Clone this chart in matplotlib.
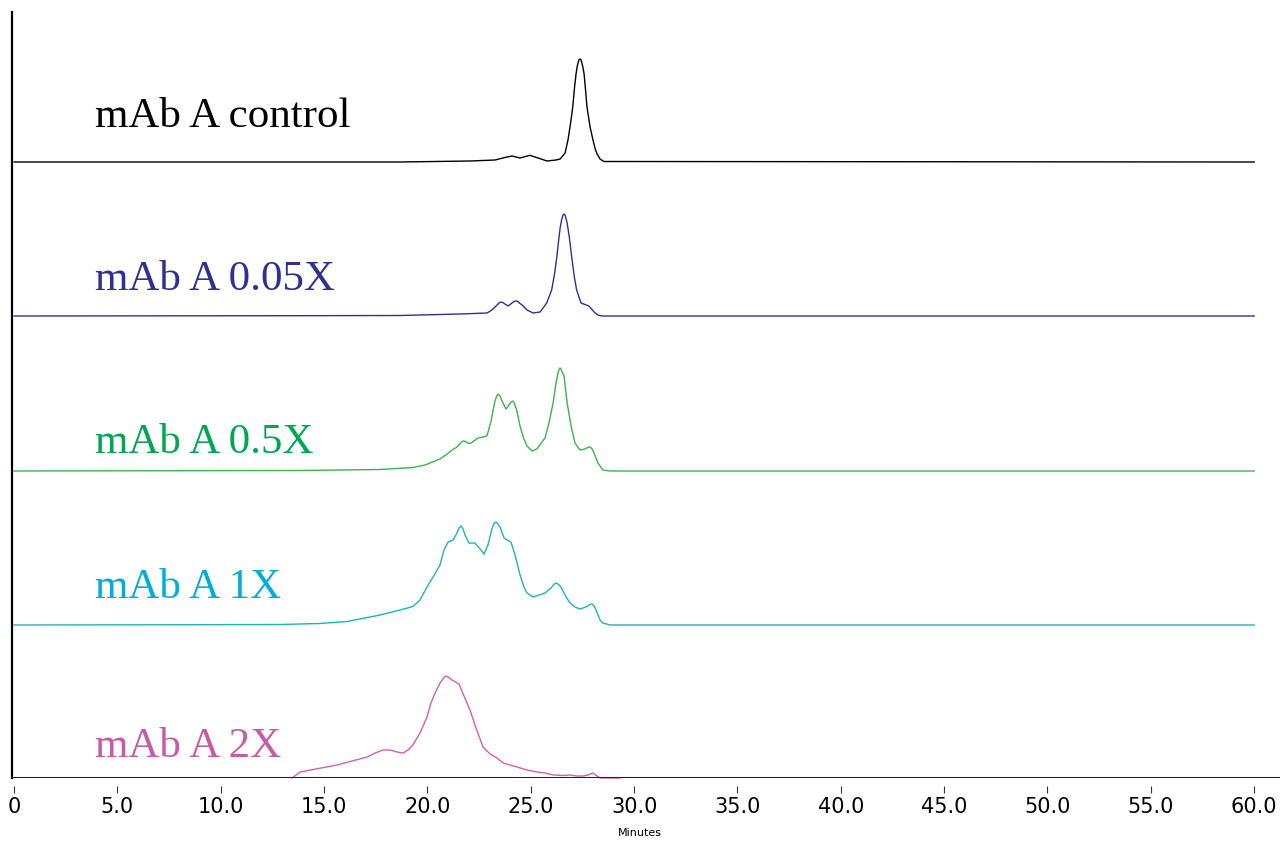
"""Stacked SEC chromatograms for mAb A at increasing stress levels."""

import matplotlib

matplotlib.use("Agg")
import matplotlib.pyplot as plt

# baseline offsets of each trace (signal units, bottom trace at 0)
OFFSETS = [616, 462, 307, 153, 0]
LABELS = ["mAb A control", "mAb A 0.05X", "mAb A 0.5X", "mAb A 1X", "mAb A 2X"]
LINE_COLORS = ["#000000", "#2e3192", "#39b54a", "#1cb5b5", "#d35fb0"]
TEXT_COLORS = ["#000000", "#2e3192", "#00a651", "#00aed6", "#c75ba5"]
LABEL_Y = [651, 488, 325, 180, 21]

ctrl_t = [0, 18.67, 22.06, 23.27, 23.75, 24.09, 24.48, 24.96, 25.35, 25.79, 26.22,
          26.42, 26.66, 26.80, 26.92, 27.03, 27.12, 27.19, 27.25, 27.30, 27.34,
          27.38, 27.42, 27.46, 27.52, 27.58, 27.65, 27.72, 27.87, 28.01, 28.12,
          28.21, 28.35, 28.54, 60]
ctrl_y = [0, 0, 1, 2, 4.5, 6, 4, 6.7, 4, 1, 2,
          3, 9, 22, 38, 55, 75, 88, 96, 100, 102.5,
          103, 102.5, 100, 95, 88, 72, 55, 35, 22, 13,
          8, 3, 0.5, 0]

x005_t = [0, 13.84, 18.67, 21.58, 22.88, 23.05, 23.17, 23.37, 23.48, 23.56, 23.65,
          23.75, 23.90, 24.00, 24.09, 24.20, 24.33, 24.45, 24.58, 24.82, 25.11,
          25.45, 25.77, 26.01, 26.15, 26.26, 26.35, 26.42, 26.50, 26.56, 26.61,
          26.66, 26.76, 26.87, 26.98, 27.10, 27.22, 27.43, 27.62, 27.81, 27.94,
          28.06, 28.25, 28.43, 60]
x005_y = [0, 0.3, 0.5, 2, 3, 5, 7, 11, 13.3, 14, 13.5,
          12, 10, 11.5, 13, 14.7, 15, 13, 11, 6, 3,
          4, 13, 26, 42, 59, 76, 88, 97, 101, 102,
          101, 93, 78, 59, 40, 26, 13, 11.5, 10, 7,
          4, 1, 0, 0]

x05_t = [0, 13.84, 17.71, 19.30, 19.88, 20.61, 20.95, 21.19, 21.43, 21.60, 21.72, 21.85,
         21.98, 22.12, 22.25, 22.45, 22.69, 22.88, 23.08, 23.20, 23.27, 23.35, 23.42,
         23.50, 23.61, 23.80, 23.95, 24.05, 24.14, 24.22, 24.33, 24.48, 24.65, 24.82,
         25.06, 25.30, 25.50, 25.69, 25.88, 26.08, 26.22, 26.32, 26.38, 26.42, 26.46,
         26.52, 26.61, 26.76, 26.95, 27.14, 27.38, 27.62, 27.75, 27.87, 27.97,
         28.06, 28.25, 28.49, 28.83, 60]
x05_y = [0, 0.5, 1.5, 3.5, 6, 12, 17, 21, 24, 28, 30, 29.5,
         27.5, 28, 30, 33, 34, 35, 50, 63, 70, 75, 77,
         75.5, 70, 62, 66, 69, 70, 67, 60, 45, 33, 25,
         20, 22, 28, 33, 48, 68, 88, 98, 102, 103, 102,
         99, 95, 68, 45, 28, 21, 22, 23.5, 24, 22,
         18, 8, 1, 0, 0]

x1_t = [0, 9.0, 12.87, 14.80, 16.11, 17.71, 18.67, 19.30, 19.64, 19.98, 20.27,
        20.61, 20.80, 21.00, 21.24, 21.43, 21.53, 21.63, 21.72, 21.82, 22.01, 22.30, 22.55,
        22.74, 22.93, 23.13, 23.24, 23.32, 23.41, 23.51, 23.71, 23.85, 24.04, 24.24, 24.48,
        24.67, 24.82, 25.11, 25.40, 25.69, 25.98, 26.12, 26.22, 26.32, 26.46, 26.71, 26.90,
        27.14, 27.38, 27.67, 27.87, 27.96, 28.06, 28.16, 28.35, 28.49, 28.83, 60]
x1_y = [0, 0.3, 0.5, 1.5, 3.5, 10, 15, 18.5, 25, 38, 48,
        60, 75, 83, 85, 92, 97, 99, 96, 90, 82, 82, 76,
        71, 80, 97, 102, 103, 101, 98, 87, 85, 83, 70, 50,
        38, 32, 28, 30, 32, 37, 40.5, 42, 41, 38, 28, 22,
        18, 16, 18, 20.5, 21, 19, 15, 5, 2, 0, 0]

x2_t = [13.45, 13.84, 15.63, 17.08, 17.47, 17.85, 18.19, 18.53, 18.82, 19.06, 19.30,
        19.64, 19.98, 20.17, 20.37, 20.61, 20.80, 20.90, 21.00, 21.19, 21.53, 21.77, 22.06,
        22.35, 22.69, 23.03, 23.37, 23.66, 24.00, 24.33, 24.82, 25.30, 25.69,
        26.08, 26.56, 26.90, 27.24, 27.53, 27.77, 28.01, 28.21, 28.35, 29.32]
x2_y = [0, 6, 13, 21, 25, 28, 28, 26, 25, 28, 33,
        45, 61, 75, 85, 95, 100.5, 102, 101, 98, 94, 82, 68,
        50, 31, 24, 20, 15, 13, 11, 8, 6, 5,
        3, 2.5, 3, 2, 2, 3, 5, 2, 0, 0]

TIMES = [ctrl_t, x005_t, x05_t, x1_t, x2_t]
SIGNALS = [ctrl_y, x005_y, x05_y, x1_y, x2_y]

TICKS = [0, 5, 10, 15, 20, 25, 30, 35, 40, 45, 50, 55, 60]
TICK_LABELS = ["0", "5.0", "10.0", "15.0", "20.0", "25.0", "30.0", "35.0",
               "40.0", "45.0", "50.0", "55.0", "60.0"]

NARROW = ["Liberation Sans Narrow", "DejaVu Sans Condensed", "DejaVu Sans"]

fig = plt.figure(figsize=(12.81, 8.41), dpi=100)
ax = fig.add_axes([12 / 1281, 1 - 778 / 841, 1268 / 1281, 766 / 841])

for t, s, off, lab, lc, tc, ly in zip(TIMES, SIGNALS, OFFSETS, LABELS,
                                      LINE_COLORS, TEXT_COLORS, LABEL_Y):
    ax.plot(t, [v + off for v in s], color=lc, lw=1.0, clip_on=False,
            solid_joinstyle="round")
    ax.text(3.9, ly, lab, color=tc, fontsize=31, family="Liberation Serif",
            va="baseline", ha="left")

ax.set_xlim(-0.1, 61.25)
ax.set_ylim(0, 766)

ax.axhline(0, color="#222222", lw=2.2, zorder=5)
for side in ("top", "right"):
    ax.spines[side].set_visible(False)
ax.spines["left"].set_linewidth(1.6)
ax.spines["bottom"].set_position(("outward", 6))
ax.spines["bottom"].set_color("none")

ax.set_yticks([])
ax.set_xticks(TICKS)
ax.set_xticklabels(TICK_LABELS, family=NARROW, fontsize=15)
ax.tick_params(axis="x", length=5, width=0.8, color="#333333", pad=3)

fig.text(640 / 1281, 1 - 833 / 841, "Minutes", ha="center", va="center",
         fontsize=8, family=NARROW)

fig.savefig("out.png", dpi=100)
